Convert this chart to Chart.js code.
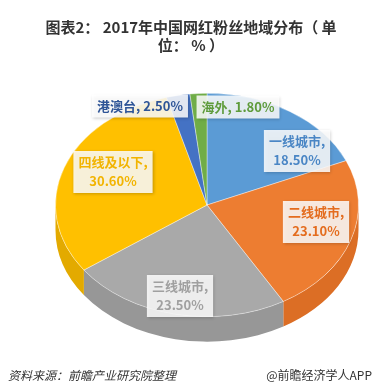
<!DOCTYPE html>
<html lang="zh">
<head>
  <meta charset="UTF-8" />
  <title>2017年中国网红粉丝地域分布</title>
  <script src="https://cdn.jsdelivr.net/npm/chart.js@4.4.0/dist/chart.umd.min.js"></script>
  <style>
    html, body { margin: 0; padding: 0; background: #fff; }
    body { width: 382px; height: 392px; position: relative; overflow: hidden; font-family: "Noto Sans CJK SC", sans-serif; }
    #chartBox { position: absolute; left: 0; top: 0; width: 382px; height: 392px; }
    .title { position: absolute; left: 0; top: 18px; width: 382px; text-align: center; font-size: 15px; font-weight: bold; color: #333; line-height: 18px; }
    .source { position: absolute; left: 8px; top: 366px; font-size: 12px; font-style: italic; color: #333; }
    .brand { position: absolute; right: 10px; top: 366px; font-size: 12px; color: #333; }
  </style>
</head>
<body>
  <div id="chartBox"><canvas id="pie"></canvas></div>
  <div class="title">图表2： 2017年中国网红粉丝地域分布（ 单<br>位： % ）</div>
  <div class="source">资料来源：前瞻产业研究院整理</div>
  <div class="brand">@前瞻经济学人APP</div>

  <script>
    // 数据
    const regions = ['一线城市', '二线城市', '三线城市', '四线及以下', '港澳台', '海外'];
    const shares = [18.5, 23.1, 23.5, 30.6, 2.5, 1.8];

    // 样式
    const topColors = ['#5B9BD5', '#ED7D31', '#A9A9A9', '#FFC000', '#4472C4', '#70AD47'];
    const sideColors = ['#4A85BD', '#DC6E25', '#979797', '#E3AA00', '#345FA8', '#5A8F38'];
    const textColors = ['#4A86C5', '#E46C1E', '#A0A0A0', '#F2B400', '#2F5597', '#5E9B3A'];
    const singleLine = [false, false, false, false, true, true];
    // label centre, offset in px from pie centre
    const labelOffset = [[90, -54], [109, 17], [-27, 91], [-94, -33], [-67, -99], [31, -98]];
    const TILT = 0.737;
    const DEPTH = 25;

    const pie3d = {
      id: 'pie3d',
      beforeDatasetsDraw(chart) {
        const ctx = chart.ctx;
        const arcs = chart.getDatasetMeta(0).data;
        const cx = arcs[0].x, cy = arcs[0].y;
        ctx.save();
        ctx.translate(cx, cy);
        ctx.scale(1, TILT);
        ctx.translate(-cx, -cy);
        const d = DEPTH / TILT;
        arcs.forEach((arc, i) => {
          const p = arc.getProps(['x', 'y', 'startAngle', 'endAngle', 'outerRadius']);
          const a = Math.max(p.startAngle, 0), b = Math.min(p.endAngle, Math.PI);
          if (a >= b) return;
          ctx.beginPath();
          ctx.arc(p.x, p.y, p.outerRadius, a, b);
          ctx.arc(p.x, p.y + d, p.outerRadius, b, a, true);
          ctx.closePath();
          ctx.fillStyle = sideColors[i];
          ctx.fill();
        });
      },
      afterDatasetsDraw(chart) {
        chart.ctx.restore();
      }
    };

    const boxLabels = {
      id: 'boxLabels',
      afterDraw(chart) {
        const ctx = chart.ctx;
        const arcs = chart.getDatasetMeta(0).data;
        ctx.save();
        ctx.font = 'bold 13px "Noto Sans CJK SC", sans-serif';
        ctx.textAlign = 'center';
        ctx.textBaseline = 'middle';
        arcs.forEach((arc, i) => {
          const val = shares[i].toFixed(2) + '%';
          const lines = singleLine[i] ? [regions[i] + ', ' + val] : [regions[i] + ',', val];
          const x = arc.x + labelOffset[i][0];
          const y = arc.y + labelOffset[i][1];
          const w = Math.max(...lines.map(l => ctx.measureText(l).width)) + 10;
          const lh = 19;
          const h = lines.length * lh + 4;
          ctx.shadowColor = 'rgba(0,0,0,0.25)';
          ctx.shadowBlur = 3;
          ctx.shadowOffsetX = 1;
          ctx.shadowOffsetY = 1;
          ctx.fillStyle = 'rgba(255,255,255,0.85)';
          ctx.fillRect(x - w / 2, y - h / 2, w, h);
          ctx.shadowColor = 'transparent';
          ctx.fillStyle = textColors[i];
          lines.forEach((l, k) => {
            ctx.fillText(l, x, y - h / 2 + 2 + lh * (k + 0.5));
          });
        });
        ctx.restore();
      }
    };

    new Chart(document.getElementById('pie'), {
      type: 'pie',
      data: {
        labels: regions,
        datasets: [{
          data: shares,
          backgroundColor: topColors,
          borderColor: 'rgba(255,255,255,0.45)',
          borderWidth: 1,
          hoverOffset: 0,
          clip: false
        }]
      },
      options: {
        responsive: true,
        maintainAspectRatio: false,
        animation: false,
        events: [],
        layout: { padding: { left: 55, right: 23, top: 53, bottom: 35 } },
        plugins: {
          legend: { display: false },
          tooltip: { enabled: false },
          title: { display: false }
        }
      },
      plugins: [pie3d, boxLabels]
    });
  </script>
</body>
</html>
